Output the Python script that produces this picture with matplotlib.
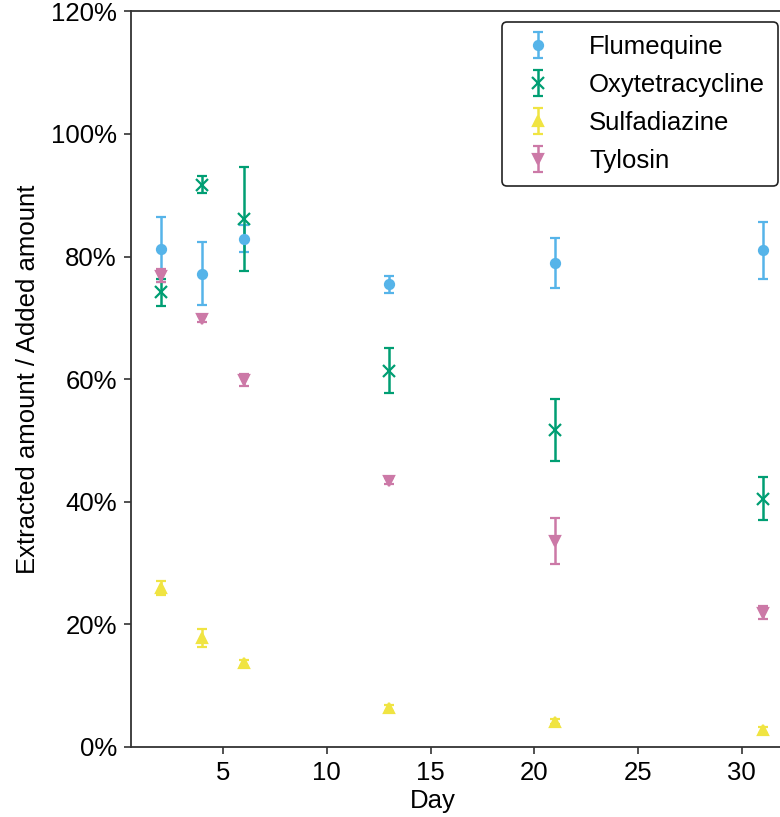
import numpy as np
import matplotlib
matplotlib.use("Agg")
import matplotlib.pyplot as plt
from matplotlib.ticker import PercentFormatter

plt.rcParams['font.family'] = ['Liberation Sans', 'DejaVu Sans']

# --- données ---
jours = [2, 4, 6, 13, 21, 31]

flumequine = [81.2, 77.2, 82.9, 75.5, 79.0, 81.0]
flumequine_err = [5.3, 5.1, 2.2, 1.4, 4.1, 4.6]

oxytetracycline = [74.2, 91.7, 86.1, 61.4, 51.7, 40.5]
oxytetracycline_err = [2.2, 1.4, 8.5, 3.7, 5.1, 3.5]

sulfadiazine = [25.9, 17.7, 13.7, 6.3, 4.1, 2.8]
sulfadiazine_err = [1.1, 1.5, 0.5, 0.5, 0.4, 0.5]

tylosin = [76.9, 69.8, 59.9, 43.4, 33.6, 21.9]
tylosin_err = [1.0, 0.5, 1.0, 0.5, 3.7, 1.0]

series = [
    ("Flumequine", flumequine, flumequine_err, "#56B4E9", "o", 6.5),
    ("Oxytetracycline", oxytetracycline, oxytetracycline_err, "#009E73", "x", 8),
    ("Sulfadiazine", sulfadiazine, sulfadiazine_err, "#F0E442", "^", 6.5),
    ("Tylosin", tylosin, tylosin_err, "#CC79A7", "v", 6.5),
]

fig = plt.figure(figsize=(7.8, 8.17), dpi=100)
# l'axe déborde à droite comme sur l'image d'origine (figure rognée)
ax = fig.add_axes([0.1676, 0.0860, 0.8486, 0.900])

for nom, vals, err, couleur, marqueur, taille in series:
    ax.errorbar(jours, np.array(vals) / 100, yerr=np.array(err) / 100,
                fmt=marqueur, color=couleur, ecolor=couleur, markersize=taille,
                markeredgewidth=1.6, elinewidth=1.8, capsize=3.5, capthick=1.6,
                label=nom)

ax.set_ylim(0, 1.2)
ax.set_yticks(np.arange(0, 1.21, 0.2))
ax.yaxis.set_major_formatter(PercentFormatter(1.0, decimals=0))
ax.set_xticks([5, 10, 15, 20, 25, 30])

ax.set_xlabel("Day", fontsize=18.5)
ax.xaxis.set_label_coords(0.457, -0.057)
ax.set_ylabel("Extracted amount / Added amount", fontsize=18.5, labelpad=8)
ax.tick_params(labelsize=18.5, length=5, width=1.2, color='#333333', pad=5)
for s in ax.spines.values():
    s.set_color('#333333')
    s.set_linewidth(1.3)

leg = ax.legend(loc='upper right', bbox_to_anchor=(778 / 780, 1 - 22 / 817),
                bbox_transform=fig.transFigure, borderaxespad=0, fontsize=18.5,
                frameon=True, fancybox=True, edgecolor='#222222',
                handletextpad=1.1, borderpad=0.5, labelspacing=0.55,
                handlelength=1.8)
leg.get_frame().set_linewidth(1.2)
leg.get_frame().set_alpha(1)

fig.savefig("out.png", dpi=100)
